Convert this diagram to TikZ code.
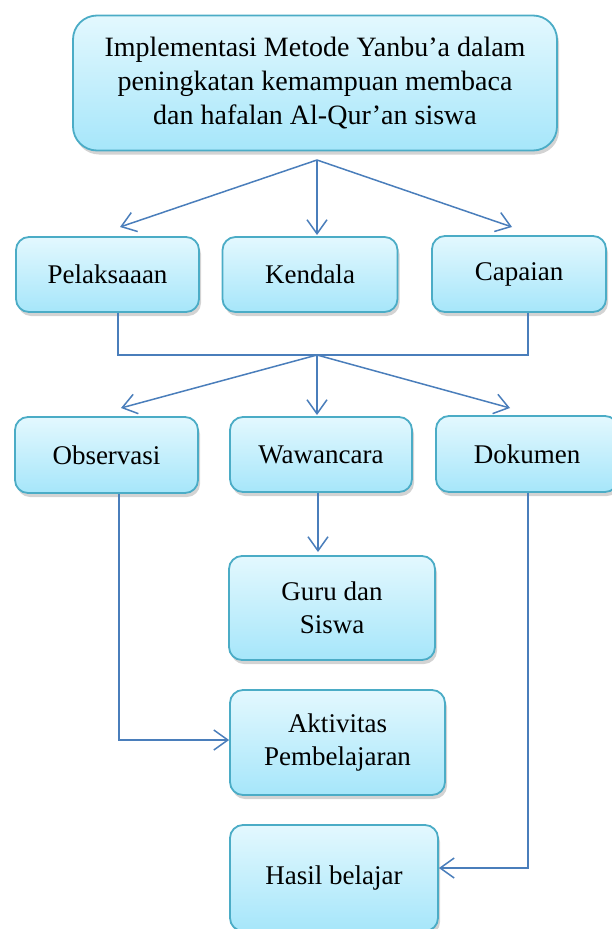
\documentclass[tikz,border=0pt]{standalone}
\usepackage{fontspec}
\setmainfont{Liberation Serif}
\usepackage{tikz}
\usetikzlibrary{arrows.meta,shadows}

\definecolor{boxline}{HTML}{4BACC6}
\definecolor{boxtop}{HTML}{E3F8FE}
\definecolor{boxbot}{HTML}{A6E6FA}
\definecolor{arrline}{HTML}{4A7EBB}

\begin{document}
\begin{tikzpicture}[x=1pt,y=-1pt,
    box/.style={draw=boxline,line width=1.8pt,rounded corners=13pt,
      top color=boxtop,bottom color=boxbot,
      drop shadow={opacity=0.35,shadow xshift=2pt,shadow yshift=-4pt},
      inner sep=0pt,align=center,
      font=\fontsize{27}{33.5}\selectfont},
    conn/.style={draw=arrline,line width=1.5pt},
    arr/.style={conn,-{Straight Barb[length=14pt,width=20pt]}}]
    \useasboundingbox (0,0) rectangle (611,929);
    % top
    \node[box,rounded corners=24pt,minimum width=484pt,minimum height=135pt,
      font=\fontsize{28}{34}\selectfont] (judul) at (315,83)
      {Implementasi Metode Yanbu’a dalam\\peningkatan kemampuan membaca\\dan hafalan Al-Qur’an siswa};
    % fokus
    \node[box,minimum width=183pt,minimum height=75pt] (pel) at (107.5,274.5) {Pelaksaaan};
    \node[box,minimum width=175pt,minimum height=75pt] (ken) at (310,274.5) {Kendala};
    \node[box,minimum width=174pt,minimum height=76pt] (cap) at (519,274) {Capaian};
    % teknik
    \node[box,minimum width=183pt,minimum height=76pt] (obs) at (106.5,455) {Observasi};
    \node[box,minimum width=182pt,minimum height=75pt] (waw) at (321,454.5) {Wawancara};
    \node[box,minimum width=182pt,minimum height=76pt] (dok) at (527,454) {Dokumen};
    % sumber
    \node[box,minimum width=206pt,minimum height=104pt] (guru) at (332,608) {Guru dan\\Siswa};
    \node[box,minimum width=215pt,minimum height=105pt] (akt) at (337.5,742.5) {Aktivitas\\Pembelajaran};
    \node[box,minimum width=208pt,minimum height=106pt] (has) at (334,878) {Hasil belajar};

    \coordinate (split1) at (317,160);
    \coordinate (t1) at (120,227);
    \coordinate (t2) at (317,235);
    \coordinate (t3) at (512,227);
    \foreach \t in {t1,t2,t3}
      \draw[arr] (split1) -- (\t);

    \coordinate (j1) at (118,355);
    \coordinate (j2) at (528,355);
    \coordinate (split2) at (317,355);
    \draw[conn] (j1 |- pel.south) -- (j1) -- (j2) -- (j2 |- cap.south);
    \coordinate (u1) at (121,408);
    \coordinate (u2) at (317,415);
    \coordinate (u3) at (510,408);
    \foreach \u in {u1,u2,u3}
      \draw[arr] (split2) -- (\u);

    \coordinate (w1) at (318,552);
    \draw[arr] (w1 |- waw.south) -- (w1);

    \coordinate (o1) at (119,740);
    \draw[arr] (o1 |- obs.south) -- (o1) -- (o1 -| akt.west);

    \coordinate (d1) at (528,868);
    \draw[arr] (d1 |- dok.south) -- (d1) -- (d1 -| has.east);
  \end{tikzpicture}
\end{document}
